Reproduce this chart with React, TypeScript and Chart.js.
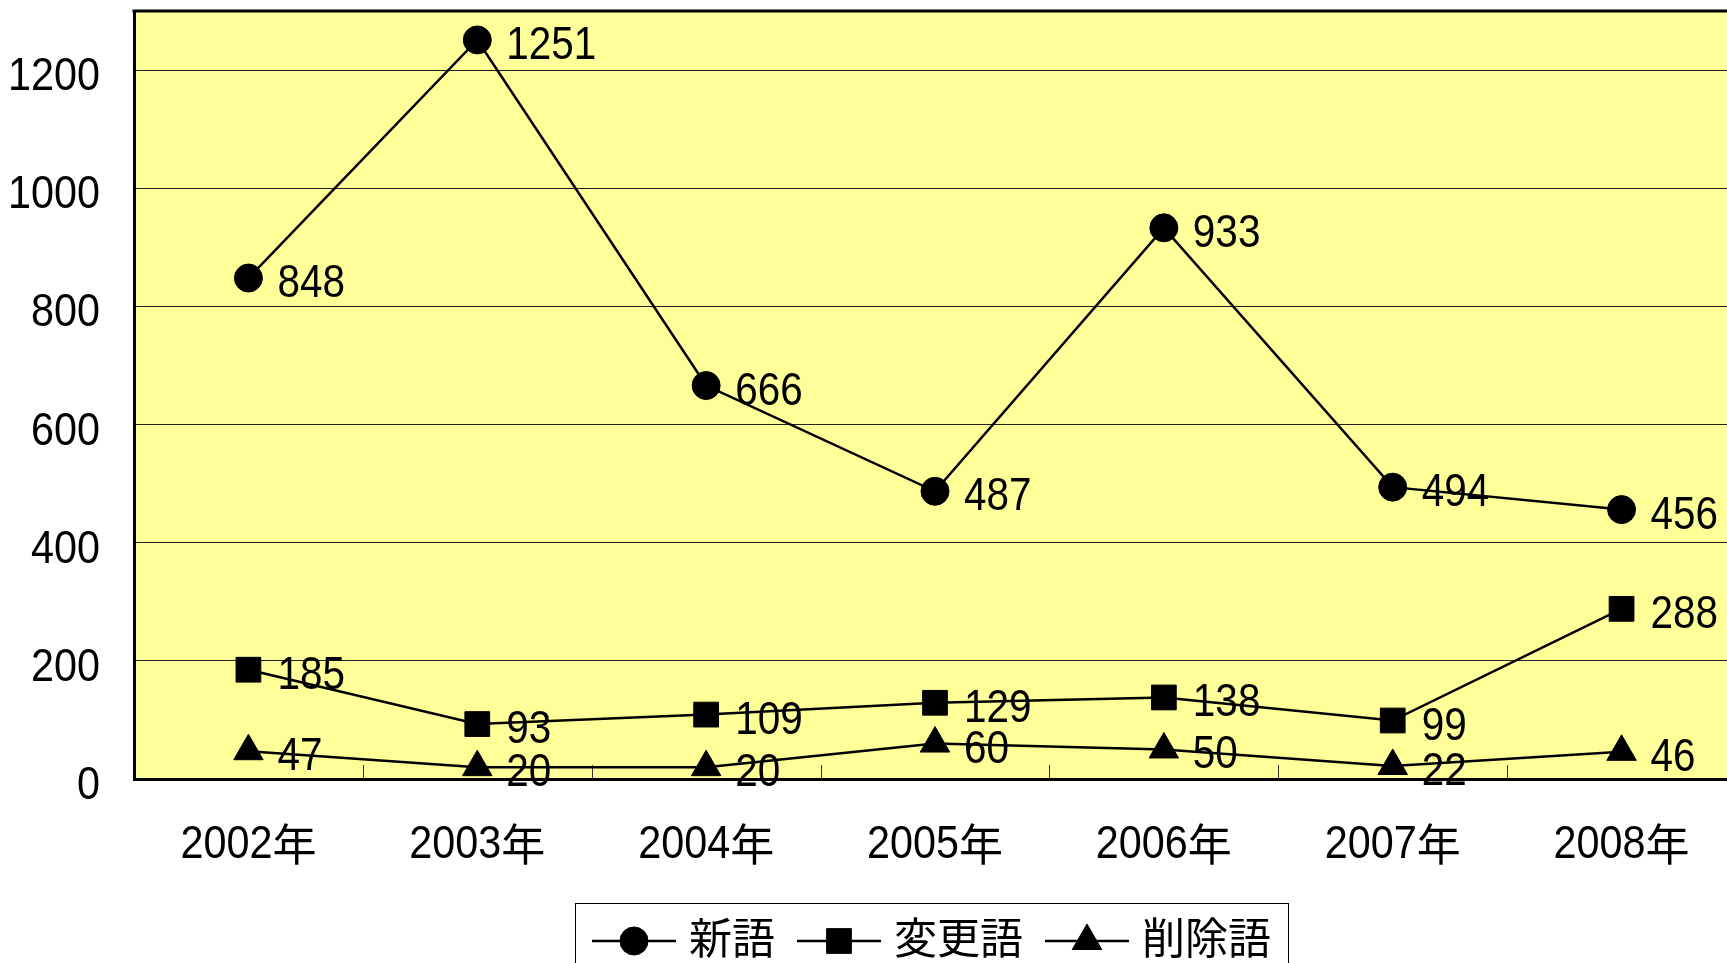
import { useEffect, useRef } from 'react';
import { Chart, registerables } from 'chart.js';
import { drawPoint } from 'chart.js/helpers';

Chart.register(...registerables);

const years = ['2002', '2003', '2004', '2005', '2006', '2007', '2008'];
const yearSuffix = '年';
const seriesNames = ['新語', '変更語', '削除語'];
const newWords = [848, 1251, 666, 487, 933, 494, 456];
const changedWords = [185, 93, 109, 129, 138, 99, 288];
const deletedWords = [47, 20, 20, 60, 50, 22, 46];
const yTicks = [0, 200, 400, 600, 800, 1000, 1200];

const NUM_FONT = "'Liberation Sans', Arial, sans-serif";
const CJK_FONT = "'Noto Sans CJK JP', sans-serif";
const NARROW = 0.88; // the original digits are a condensed Arial

// draw digits squeezed horizontally; returns drawn width
function narrowText(ctx: any, text: string, x: number, y: number, size: number, align: 'left' | 'right') {
  ctx.font = `${size}px ${NUM_FONT}`;
  const w = ctx.measureText(text).width * NARROW;
  const x0 = align === 'left' ? x : x - w;
  ctx.save();
  ctx.translate(x0, y);
  ctx.scale(NARROW, 1);
  ctx.textAlign = 'left';
  ctx.textBaseline = 'alphabetic';
  ctx.fillText(text, 0, 0);
  ctx.restore();
  return w;
}

// yellow plot background, frame and inner tick marks
const plotFrame = {
  id: 'plotFrame',
  beforeDraw(chart: any) {
    const { ctx, chartArea: a } = chart;
    ctx.save();
    ctx.fillStyle = '#ffff99';
    ctx.fillRect(a.left, a.top, a.right - a.left, a.bottom - a.top);
    ctx.restore();
  },
  beforeDatasetsDraw(chart: any) {
    const { ctx, chartArea: a } = chart;
    const x = chart.scales.x;
    ctx.save();
    ctx.strokeStyle = '#333';
    ctx.lineWidth = 1;
    for (let i = 1; i <= years.length; i++) {
      const px = Math.round(x.getPixelForValue(i - 0.5)) + 0.5;
      ctx.beginPath();
      ctx.moveTo(px, a.bottom);
      ctx.lineTo(px, a.bottom - 14);
      ctx.stroke();
    }
    ctx.strokeStyle = '#000';
    ctx.lineWidth = 3;
    ctx.beginPath();
    ctx.moveTo(a.left - 1.5, a.top);
    ctx.lineTo(a.right, a.top);
    ctx.lineTo(a.right, a.bottom);
    ctx.stroke();
    ctx.restore();
  },
};

// axis labels drawn from the scales, condensed like the original
const axisLabels = {
  id: 'axisLabels',
  afterDraw(chart: any) {
    const { ctx, chartArea: a } = chart;
    const xs = chart.scales.x;
    const ys = chart.scales.y;
    ctx.save();
    ctx.fillStyle = '#000';
    yTicks.forEach((v) => {
      narrowText(ctx, String(v), a.left - 34, ys.getPixelForValue(v) + 20, 47, 'right');
    });
    years.forEach((yr, i) => {
      ctx.font = `47px ${NUM_FONT}`;
      const dw = ctx.measureText(yr).width * NARROW;
      ctx.font = `44px ${CJK_FONT}`;
      const sw = ctx.measureText(yearSuffix).width;
      const cx = xs.getPixelForValue(i);
      const left = cx - (dw + sw) / 2;
      const base = a.bottom + 79;
      narrowText(ctx, yr, left, base, 47, 'left');
      ctx.font = `44px ${CJK_FONT}`;
      ctx.textAlign = 'left';
      ctx.textBaseline = 'alphabetic';
      ctx.fillText(yearSuffix, left + dw, base + 3);
    });
    ctx.restore();
  },
};

const valueLabels = {
  id: 'valueLabels',
  afterDatasetsDraw(chart: any) {
    const { ctx } = chart;
    ctx.save();
    ctx.fillStyle = '#000';
    chart.data.datasets.forEach((ds: any, i: number) => {
      chart.getDatasetMeta(i).data.forEach((pt: any, j: number) => {
        narrowText(ctx, String(ds.data[j]), pt.x + 29, pt.y + 19, 46, 'left');
      });
    });
    ctx.restore();
  },
};

const boxLegend = {
  id: 'boxLegend',
  afterDraw(chart: any) {
    const { ctx, chartArea: a } = chart;
    const sample = 84;
    const gap = 13;
    const itemGap = 22;
    const pad = 17;
    ctx.save();
    ctx.font = `43px ${CJK_FONT}`;
    const widths = chart.data.datasets.map((ds: any) => ctx.measureText(ds.label).width);
    const total =
      pad * 2 +
      widths.reduce((s: number, w: number) => s + sample + gap + w, 0) +
      itemGap * (widths.length - 1);
    const left = Math.round((a.left + a.right) / 2 - total / 2) - 4;
    const top = a.bottom + 124;
    ctx.strokeStyle = '#000';
    ctx.lineWidth = 1;
    ctx.strokeRect(left + 0.5, top + 0.5, total, 100);
    const cy = top + 38;
    let x = left + pad;
    chart.data.datasets.forEach((ds: any, i: number) => {
      ctx.strokeStyle = '#000';
      ctx.lineWidth = 2.5;
      ctx.beginPath();
      ctx.moveTo(x, cy);
      ctx.lineTo(x + sample, cy);
      ctx.stroke();
      ctx.fillStyle = '#000';
      ctx.lineWidth = 1;
      drawPoint(ctx, { pointStyle: ds.pointStyle, radius: ds.pointRadius, rotation: 0, borderWidth: 1 }, x + sample / 2, cy);
      ctx.fillStyle = '#000';
      ctx.font = `43px ${CJK_FONT}`;
      ctx.textAlign = 'left';
      ctx.textBaseline = 'middle';
      ctx.fillText(ds.label, x + sample + gap, cy - 3);
      x += sample + gap + widths[i] + itemGap;
    });
    ctx.restore();
  },
};

export default function App() {
  const canvasRef = useRef<HTMLCanvasElement>(null);
  const chartRef = useRef<Chart | null>(null);

  useEffect(() => {
    if (!canvasRef.current) return;
    if (chartRef.current) chartRef.current.destroy();

    const common = {
      borderColor: '#000',
      backgroundColor: '#000',
      pointBackgroundColor: '#000',
      pointBorderColor: '#000',
      borderWidth: 2.5,
      pointBorderWidth: 1,
      fill: false,
      tension: 0,
      clip: false,
    };

    chartRef.current = new Chart(canvasRef.current, {
      type: 'line',
      data: {
        labels: years.map((y) => y + yearSuffix),
        datasets: [
          { ...common, label: seriesNames[0], data: newWords, pointStyle: 'circle', pointRadius: 14 },
          { ...common, label: seriesNames[1], data: changedWords, pointStyle: 'rect', pointRadius: 17.5 },
          { ...common, label: seriesNames[2], data: deletedWords, pointStyle: 'triangle', pointRadius: 17 },
        ],
      },
      options: {
        animation: false,
        responsive: true,
        maintainAspectRatio: false,
        layout: { autoPadding: false, padding: { left: 0, top: 11, right: 24, bottom: 0 } },
        plugins: {
          legend: { display: false },
          tooltip: { enabled: false },
        },
        scales: {
          x: {
            offset: true,
            grid: { display: true, drawOnChartArea: false, drawTicks: false },
            border: { display: true, color: '#000', width: 3 },
            ticks: { display: false },
            afterFit: (s: any) => {
              s.height = 184;
              s.paddingLeft = 0;
              s.paddingRight = 0;
            },
          },
          y: {
            min: 0,
            max: 1300,
            grid: { color: '#222', lineWidth: 1, drawTicks: false },
            border: { display: true, color: '#000', width: 3 },
            ticks: { display: false, stepSize: 200 },
            afterBuildTicks: (s: any) => {
              s.ticks = yTicks.map((v) => ({ value: v }));
            },
            afterFit: (s: any) => {
              s.width = 134;
              s.paddingTop = 0;
              s.paddingBottom = 0;
            },
          },
        },
      },
      plugins: [plotFrame, valueLabels, axisLabels, boxLegend],
    } as any);

    return () => {
      if (chartRef.current) {
        chartRef.current.destroy();
        chartRef.current = null;
      }
    };
  }, []);

  return (
    <div style={{ position: 'fixed', left: 0, top: 0, width: '100vw', height: '100vh', overflow: 'hidden', background: '#fff' }}>
      <div style={{ position: 'absolute', left: 0, top: 0, width: 1760, height: 963 }}>
        <canvas ref={canvasRef}></canvas>
      </div>
    </div>
  );
}
